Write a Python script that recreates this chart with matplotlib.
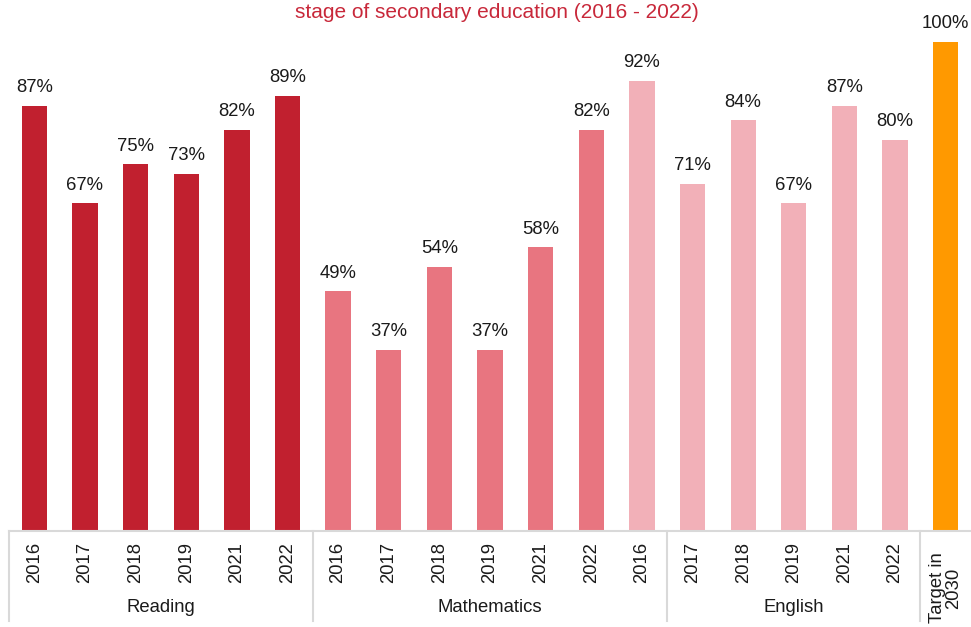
import matplotlib
matplotlib.use("Agg")
import matplotlib.pyplot as plt
import matplotlib.transforms as mtransforms

plt.rcParams['font.family'] = ['Liberation Sans', 'DejaVu Sans']

years = ["2016", "2017", "2018", "2019", "2021", "2022",
         "2016", "2017", "2018", "2019", "2021", "2022",
         "2016", "2017", "2018", "2019", "2021", "2022"]
values = [87, 67, 75, 73, 82, 89,
          49, 37, 54, 37, 58, 82,
          92, 71, 84, 67, 87, 80]
series = ["Reading"] * 6 + ["Mathematics"] * 6 + ["English"] * 6
target_label = "Target in\n2030"
target_value = 100

groups = ["Reading", "Mathematics", "English"]
group_spans = [(0, 5), (6, 12), (13, 17)]   # bar index ranges shown under each group label
colors = {"Reading": "#C1202F", "Mathematics": "#E87580", "English": "#F2B0B8"}
target_color = "#FF9900"

FS = 13.3
W, H = 971, 627
fig = plt.figure(figsize=(W / 100, H / 100), dpi=100)
ax_left, ax_right = 9 / W, 1.0
ax_bottom_px, ax_top_px = 531, 30
ax = fig.add_axes([ax_left, (H - ax_bottom_px) / H, ax_right - ax_left,
                   (ax_bottom_px - ax_top_px) / H])

n = len(values)
xs = list(range(n))
bar_colors = [colors[s] for s in series]
ax.bar(xs, values, width=0.5, color=bar_colors)
ax.bar([n], [target_value], width=0.5, color=target_color)

ax.set_xlim(-0.5, n + 0.5)
ax.set_ylim(0, (ax_bottom_px - ax_top_px) / 4.89)

for x, v in zip(xs + [n], values + [target_value]):
    ax.annotate(f"{v}%", (x, v), xytext=(0, 7), textcoords="offset points",
                ha="center", va="bottom", fontsize=FS, color="#1a1a1a")

for s in ["top", "right", "left"]:
    ax.spines[s].set_visible(False)
ax.spines["bottom"].set_color("#D9D9D9")
ax.spines["bottom"].set_linewidth(1.5)
ax.set_yticks([])
ax.set_xticks(xs)
ax.set_xticklabels(years, rotation=90, fontsize=FS, va="top", color="#1a1a1a")
ax.tick_params(axis="x", length=0, pad=8)

trans = mtransforms.blended_transform_factory(ax.transData, ax.transAxes)
axh = ax_bottom_px - ax_top_px
line_bottom = (ax_bottom_px - 621) / axh
for b in [-0.5, 5.5, 12.5, 17.5]:
    ax.plot([b, b], [0, line_bottom], transform=trans, color="#D9D9D9",
            lw=1.5, clip_on=False)

group_y = (ax_bottom_px - 608) / axh
for g, (a, b) in zip(groups, group_spans):
    ax.text((a + b) / 2, group_y, g, transform=trans, ha="center", va="center",
            fontsize=FS, color="#1a1a1a")

ax.text(n, (ax_bottom_px - 588) / axh, target_label, transform=trans, rotation=90,
        ha="center", va="center", multialignment="center", fontsize=FS,
        color="#1a1a1a", linespacing=0.95)

fig.text(497 / W, 1 - 12 / H, "stage of secondary education (2016 - 2022)",
         ha="center", va="center", fontsize=15, color="#C8283A")

fig.savefig("out.png", dpi=100)
